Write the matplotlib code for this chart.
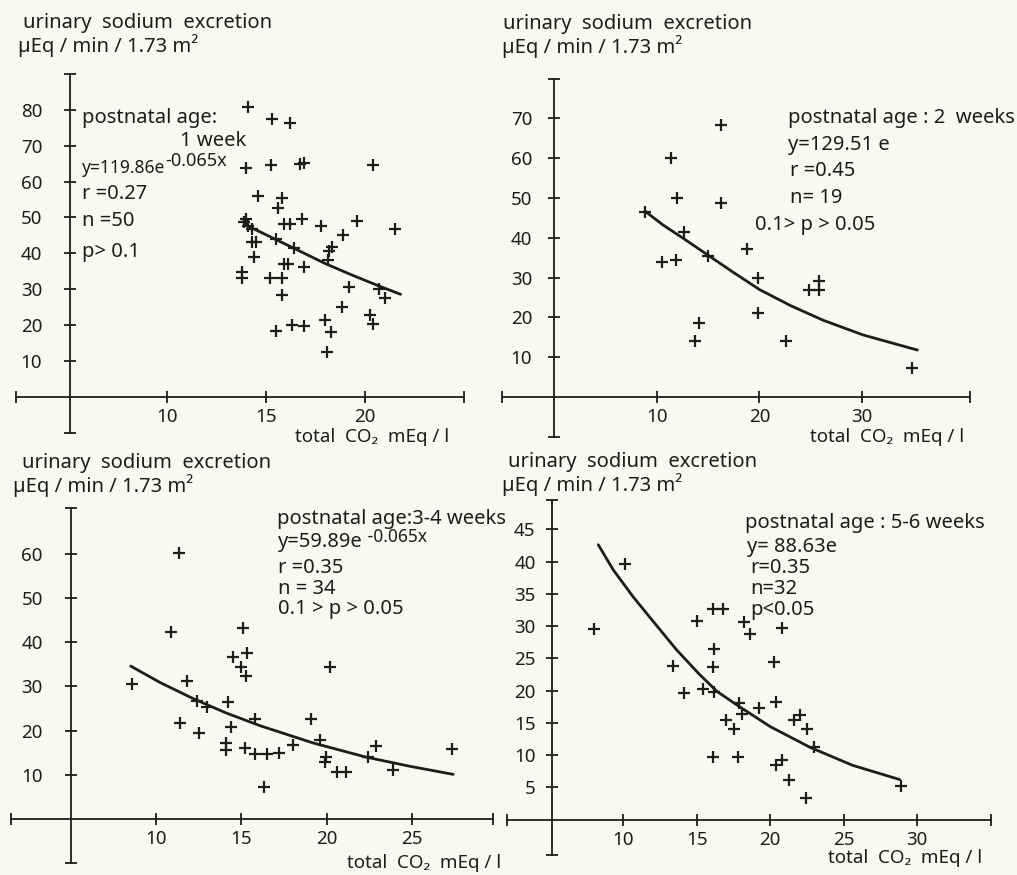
from __future__ import annotations

import matplotlib

matplotlib.use("Agg")
import matplotlib.pyplot as plt
from matplotlib.text import Annotation


W, H = 1017, 875
INK = "#1d1d1b"
PAPER = "#f8f8f4"
FONT = ["Noto Sans", "DejaVu Sans"]

# postnatal age 1 week
CO2_1W = [14.1, 15.3, 16.2, 14.0, 15.25, 16.7, 16.9, 20.4, 14.6, 15.8, 15.6, 13.9, 14.1, 14.0, 14.3,
          15.9, 16.2, 16.8, 17.8, 19.6, 21.5, 18.9, 14.3, 14.5, 15.5, 16.4, 18.35, 18.2, 18.15, 14.4,
          15.9, 16.1, 16.9, 13.8, 13.8, 15.2, 15.8, 19.2, 20.7, 21.0, 15.8, 18.85, 20.25, 20.4, 15.5,
          16.3, 16.9, 18.0, 18.3, 18.1]
NA_1W = [80.9, 77.4, 76.4, 63.7, 64.6, 64.8, 65.1, 64.6, 56.1, 55.3, 52.6, 48.8, 47.7, 49.5, 46.8,
         48.1, 48.1, 49.6, 47.6, 49.1, 46.7, 45.1, 43.3, 43.3, 43.9, 41.4, 41.9, 40.7, 38.2, 38.9,
         37.0, 37.0, 36.3, 34.9, 33.1, 33.2, 33.2, 30.7, 30.0, 27.5, 28.4, 25.2, 22.8, 20.3, 18.5,
         20.1, 19.9, 21.4, 18.0, 12.5]
FIT_X_1W = [14.1, 15.45, 16.46, 17.98, 19.33, 20.67, 21.8]
FIT_Y_1W = [47.6, 44.0, 41.3, 37.2, 34.0, 31.0, 28.6]

# postnatal age 2 weeks
CO2_2W = [16.2, 11.4, 12.0, 16.2, 8.8, 12.6, 18.75, 10.5, 11.85, 15.0, 19.9, 24.8, 25.8, 25.8,
          19.9, 14.1, 13.7, 22.6, 34.9]
NA_2W = [68.3, 60.1, 49.9, 48.7, 46.6, 41.4, 37.2, 34.0, 34.3, 35.5, 30.0, 26.9, 29.1, 26.9,
         21.0, 18.5, 14.1, 14.1, 7.2]
FIT_X_2W = [8.83, 10.6, 12.6, 15.0, 17.4, 20.0, 23.0, 26.2, 30.1, 35.4]
FIT_Y_2W = [46.7, 43.2, 39.8, 35.6, 31.4, 27.0, 23.0, 19.3, 15.6, 11.8]

# postnatal age 3-4 weeks
CO2_34W = [11.35, 10.9, 15.1, 14.5, 15.35, 14.96, 15.27, 20.2, 8.58, 11.8, 12.4, 12.97, 14.2, 15.8,
           19.1, 11.4, 12.5, 14.4, 14.1, 14.1, 15.2, 15.8, 16.5, 17.2, 18.0, 19.6, 19.95, 19.9, 20.6,
           21.1, 22.4, 22.9, 23.9, 27.3, 16.3]
NA_34W = [60.1, 42.2, 43.3, 36.7, 37.5, 34.5, 32.4, 34.3, 30.5, 31.3, 26.8, 25.4, 26.4, 22.6,
          22.6, 21.7, 19.4, 20.9, 17.3, 15.5, 16.0, 14.7, 14.7, 15.0, 16.7, 17.9, 14.0, 13.0, 10.7,
          10.6, 14.0, 16.5, 11.1, 15.8, 7.2]
FIT_X_34W = [8.52, 10.23, 12.2, 14.1, 16.1, 19.2, 22.3, 24.9, 27.4]
FIT_Y_34W = [34.6, 30.9, 27.2, 24.0, 21.1, 17.2, 14.0, 11.9, 10.1]

# postnatal age 5-6 weeks
CO2_56W = [10.1, 8.0, 16.1, 16.8, 15.0, 18.2, 18.6, 20.8, 16.2, 16.1, 20.25, 13.4, 14.1, 15.4, 16.2,
           17.9, 19.2, 20.4, 18.05, 17.0, 17.5, 21.6, 22.0, 22.5, 23.0, 16.1, 17.8, 20.4, 20.8, 21.3,
           22.4, 28.9]
NA_56W = [39.6, 29.5, 32.6, 32.7, 30.8, 30.7, 28.7, 29.7, 26.5, 23.6, 24.4, 23.8, 19.6, 20.2, 19.7,
          18.0, 17.3, 18.2, 16.3, 15.5, 14.0, 15.4, 16.2, 14.1, 11.3, 9.7, 9.7, 8.4, 9.2, 6.1,
          3.4, 5.2]
FIT_X_56W = [8.3, 9.32, 10.68, 12.04, 13.63, 15.1, 16.35, 17.7, 20.0, 22.7, 25.6, 28.8]
FIT_Y_56W = [42.6, 38.7, 34.5, 30.7, 26.3, 22.7, 19.9, 17.8, 14.4, 11.2, 8.4, 6.2]

YLABEL_1 = "urinary  sodium  excretion"
YLABEL_2 = "µEq / min / 1.73 m²"
XLABEL = "total  CO₂  mEq / l"


def fx(px: float) -> float:
    return px / W


def fy(py: float) -> float:
    return 1 - py / H


def make_panel(fig, box, xlim, ylim, ycross, xticks, xlabels, yticks, ylabels, ypad):
    left, top, right, bottom = box
    ax = fig.add_axes([fx(left), fy(bottom), (right - left) / W, (bottom - top) / H])
    ax.set_xlim(xlim)
    ax.set_ylim(ylim)
    ax.patch.set_alpha(0)
    ax.spines["top"].set_visible(False)
    ax.spines["right"].set_visible(False)
    ax.spines["left"].set_position(("data", ycross))
    ax.spines["bottom"].set_position(("data", 0))
    for side in ("left", "bottom"):
        ax.spines[side].set_linewidth(1.3)
        ax.spines[side].set_color(INK)
    ax.set_xticks(xticks, xlabels)
    ax.set_yticks(yticks, ylabels)
    ax.tick_params(direction="inout", length=8, width=1.3, colors=INK, labelsize=13.5)
    ax.tick_params(axis="x", pad=4)
    ax.tick_params(axis="y", pad=ypad)
    for lab in ax.get_xticklabels() + ax.get_yticklabels():
        lab.set_family(FONT)
    return ax


def draw_data(ax, xs, ys, fit_x, fit_y):
    ax.plot(fit_x, fit_y, "-", color=INK, lw=2.0, solid_capstyle="round", clip_on=False)
    ax.plot(xs, ys, "+", color=INK, ms=8, mew=1.6, clip_on=False)


def txt(fig, px, py, s, size=14.5):
    return fig.text(fx(px), fy(py), s, ha="left", va="baseline", fontsize=size, color=INK, family=FONT)


def sup(fig, base, py, s, size=13.5, gap=1):
    # exponent placed right after the end of the base text
    note = Annotation(s, xy=(1.0, fy(py)), xycoords=(base, "figure fraction"),
                      xytext=(gap, 0), textcoords="offset points",
                      ha="left", va="baseline", fontsize=size, color=INK, family=FONT)
    fig.add_artist(note)


def main() -> None:
    fig = plt.figure(figsize=(W / 100, H / 100), dpi=100, facecolor=PAPER)

    ax1 = make_panel(fig, (16.5, 73.9, 464, 432.9), (2.4, 25), (-10, 90), 5.1,
                     [2.4, 10, 15, 20, 25], ["", "10", "15", "20", ""],
                     [-10, 10, 20, 30, 40, 50, 60, 70, 80, 90],
                     ["", "10", "20", "30", "40", "50", "60", "70", "80", ""], 16)
    draw_data(ax1, CO2_1W, NA_1W, FIT_X_1W, FIT_Y_1W)

    ax2 = make_panel(fig, (502.2, 78.6, 969.6, 436.8), (-5.1, 40.5), (-10, 80), 0,
                     [-5.1, 10, 20, 30, 40.5], ["", "10", "20", "30", ""],
                     [-10, 10, 20, 30, 40, 50, 60, 70, 80],
                     ["", "10", "20", "30", "40", "50", "60", "70", ""], 12)
    draw_data(ax2, CO2_2W, NA_2W, FIT_X_2W, FIT_Y_2W)

    ax3 = make_panel(fig, (10.8, 508.3, 492.5, 863.2), (1.5, 29.7), (-10, 70.3), 5,
                     [1.5, 10, 15, 20, 25, 29.7], ["", "10", "15", "20", "25", ""],
                     [-10, 10, 20, 30, 40, 50, 60, 70.3],
                     ["", "10", "20", "30", "40", "50", "60", ""], 16)
    draw_data(ax3, CO2_34W, NA_34W, FIT_X_34W, FIT_Y_34W)

    ax4 = make_panel(fig, (506.7, 499.6, 990.8, 855), (2.07, 35), (-5.5, 49.6), 5.17,
                     [2.07, 10, 15, 20, 25, 30, 35], ["", "10", "15", "20", "25", "30", ""],
                     [-5.5, 5, 10, 15, 20, 25, 30, 35, 40, 45, 49.6],
                     ["", "5", "10", "15", "20", "25", "30", "35", "40", "45", ""], 8)
    draw_data(ax4, CO2_56W, NA_56W, FIT_X_56W, FIT_Y_56W)

    # axis titles
    for (x1, b1, x2, b2) in [(23, 28, 18, 52), (503, 29, 502, 53), (22, 468, 13, 492), (508, 467, 502, 491)]:
        txt(fig, x1, b1, YLABEL_1, 14.5)
        txt(fig, x2, b2, YLABEL_2, 14.5)
    for (x, b) in [(295, 442), (810, 442), (347, 868), (828, 863)]:
        txt(fig, x, b, XLABEL, 13.5)

    # panel 1 annotation
    txt(fig, 82, 123, "postnatal age:")
    txt(fig, 180, 146, "1 week")
    base = txt(fig, 82, 173, "y=119.86e", 12.5)
    sup(fig, base, 166, "-0.065x", 13, 0)
    txt(fig, 82, 199, "r =0.27")
    txt(fig, 82, 226, "n =50")
    txt(fig, 82, 257, "p> 0.1")

    # panel 2 annotation
    txt(fig, 788, 123, "postnatal age : 2  weeks")
    txt(fig, 788, 150, "y=129.51 e")
    txt(fig, 790, 176, "r =0.45")
    txt(fig, 790, 203, "n= 19")
    txt(fig, 755, 230, "0.1> p > 0.05")

    # panel 3 annotation
    txt(fig, 277, 524, "postnatal age:3-4 weeks")
    base = txt(fig, 278, 547, "y=59.89e")
    sup(fig, base, 542, " -0.065x", 12.5, 0)
    txt(fig, 278, 573, "r =0.35")
    txt(fig, 278, 594, "n = 34")
    txt(fig, 278, 614, "0.1 > p > 0.05")

    # panel 4 annotation
    txt(fig, 745, 528, "postnatal age : 5-6 weeks")
    txt(fig, 747, 552, "y= 88.63e")
    txt(fig, 750, 573, "r=0.35")
    txt(fig, 750, 594, "n=32")
    txt(fig, 750, 615, "p<0.05")

    fig.savefig("out.png", dpi=100, facecolor=PAPER)
    plt.close(fig)


if __name__ == "__main__":
    main()
